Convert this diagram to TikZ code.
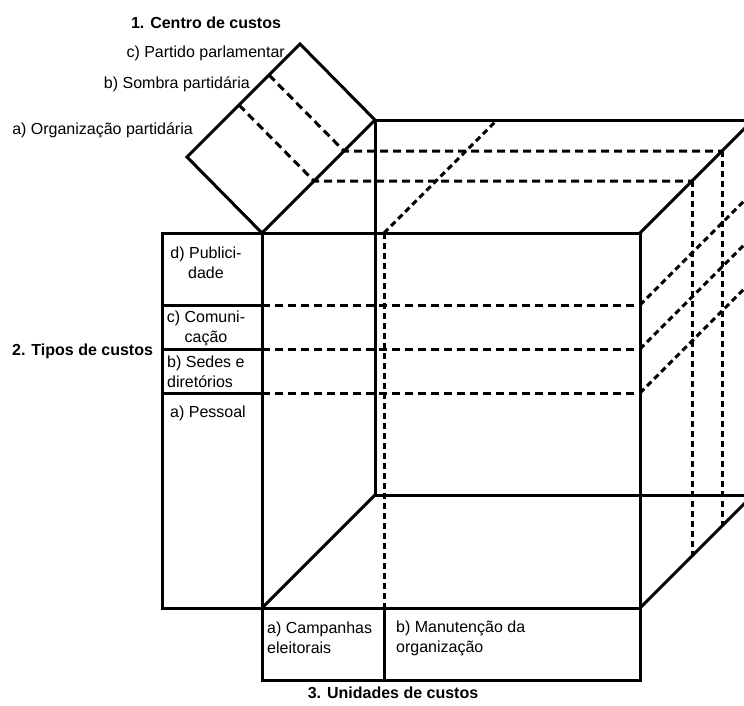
\documentclass[tikz,border=0pt]{standalone}
\usepackage{fontspec}
\setmainfont{Liberation Sans}
\begin{document}
\begin{tikzpicture}[x=1pt,y=-1pt,
  edge/.style={line width=3pt, line cap=rect},
  hid/.style={line width=3pt, dash pattern=on 8pt off 5pt},
  hidfine/.style={line width=3pt, dash pattern=on 6pt off 4pt},
  lbl/.style={inner sep=0pt, font=\fontsize{16}{20}\selectfont},
  ttl/.style={inner sep=0pt, font=\bfseries\fontsize{16}{20}\selectfont}]
\useasboundingbox (0,0) rectangle (744,705);
\clip (0,0) rectangle (744,705);
% cube corners
\coordinate (F1) at (262,233); \coordinate (F2) at (640,233);
\coordinate (F3) at (640,608); \coordinate (F4) at (262,608);
\coordinate (B1) at (375,120); \coordinate (B2) at (753,120);
\coordinate (B3) at (753,495); \coordinate (B4) at (375,495);
% centre de custos square
\coordinate (S1) at (262,233); \coordinate (S2) at (375,120);
\coordinate (S3) at (300,44);  \coordinate (S4) at (187,157);
% left column
\coordinate (L1) at (162,233); \coordinate (L4) at (162,608);
% bottom box
\coordinate (U1) at (262,680); \coordinate (U2) at (640,680);
\coordinate (Um) at (384,608); \coordinate (Umb) at (384,680);
\coordinate (Umt) at (384,233); \coordinate (Umk) at (497,120);

% hidden (dashed) lines
\foreach \y in {305,349,393}{
  \draw[hid] (262,\y) -- (640,\y);
  \draw[hidfine] (640,\y) -- ++(113,-113);
}
\draw[hidfine] (Umt) -- (Um);
\draw[hidfine] (Umt) -- (Umk);
\foreach \d in {52,82}{
  \draw[hid] (187+\d,157-\d) -- (262+\d,233-\d) -- (640+\d,233-\d);
  \draw[hidfine] (640+\d,233-\d) -- (640+\d,608-\d);
}

% solid edges
\draw[edge] (S1) -- (S2) -- (S3) -- (S4) -- cycle;
\draw[edge] (L1) -- (F2) -- (F3) -- (L4) -- cycle;
\draw[edge] (F1) -- (U1) -- (U2) -- (F3);
\draw[edge] (Um) -- (Umb);
\draw[edge] (B1) -- (B2);
\draw[edge] (B1) -- (B4) -- (B3);
\draw[edge] (F2) -- (B2);
\draw[edge] (F3) -- (B3);
\draw[edge] (F4) -- (B4);
\draw[edge] (162,305) -- (262,305);
\draw[edge] (162,349) -- (262,349);
\draw[edge] (162,393) -- (262,393);

% labels
\node[ttl] (t1) at (206,23) {1. Centro de custos};
\node[lbl, anchor=east] (cpp) at (285,53) {c) Partido parlamentar};
\node[lbl, anchor=east] (bsp) at (250,84) {b) Sombra partidária};
\node[lbl, anchor=east] (aop) at (193,130) {a) Organização partidária};
\node[ttl, anchor=west] (t2) at (12,351) {2. Tipos de custos};
\node[lbl, align=center] (dpub) at (206,263) {d) Publici-\\dade};
\node[lbl, align=center] (ccom) at (206,328) {c) Comuni-\\cação};
\node[lbl, align=left, anchor=west] (bsed) at (167,372) {b) Sedes e\\diretórios};
\node[lbl, anchor=west] (apes) at (170,413) {a) Pessoal};
\node[lbl, align=left, anchor=west] (acam) at (267,638) {a) Campanhas\\eleitorais};
\node[lbl, align=left, anchor=west] (bman) at (396,638) {b) Manutenção da\\organização};
\node[ttl] (t3) at (393,693) {3. Unidades de custos};
\end{tikzpicture}
\end{document}
